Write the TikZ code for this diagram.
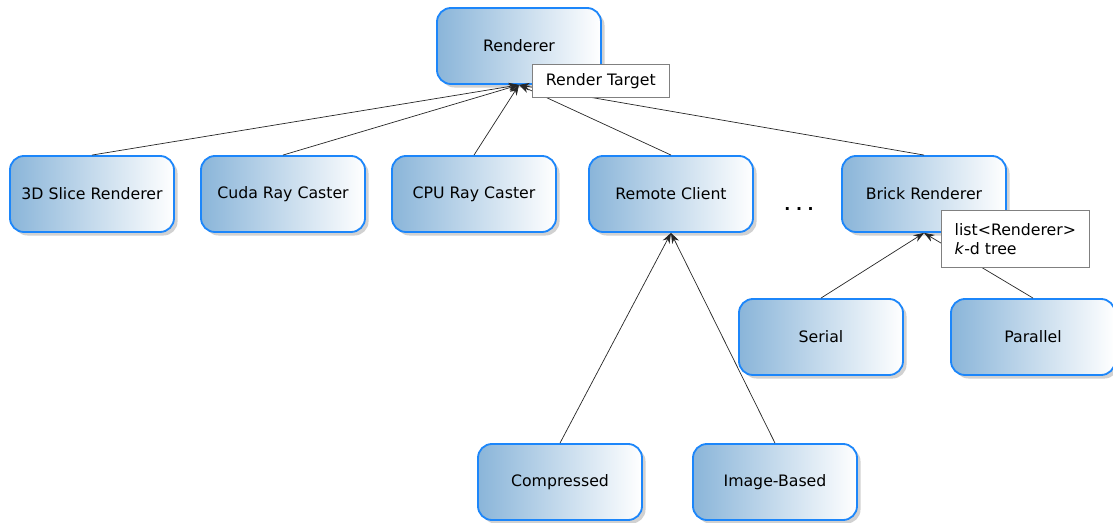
\documentclass[tikz,border=0pt]{standalone}
\usepackage{fontspec}
\setmainfont{DejaVu Sans}
\usepackage{tikz}
\usetikzlibrary{positioning,arrows.meta,shadows}

\definecolor{boxblue}{RGB}{138,181,217}
\definecolor{edgeblue}{RGB}{28,134,250}

\begin{document}
\begin{tikzpicture}[
        x=0.025cm, y=-0.025cm,
        font=\fontsize{11.2}{13.6}\selectfont,
        >={Stealth[length=2.6mm,width=1.9mm]},
        cls/.style={
            rectangle,
            rounded corners=0.35cm,
            draw=edgeblue,
            line width=1.3pt,
            left color=boxblue,
            right color=white,
            minimum height=1.9cm,
            minimum width=4.1cm,
            align=center,
            drop shadow={shadow xshift=2.5pt, shadow yshift=-2.5pt, opacity=0.3, fill=black!60}
        },
        note/.style={
            rectangle,
            draw=black!50,
            line width=0.5pt,
            fill=white,
            align=left,
            anchor=north west,
            inner xsep=2.2mm
        },
        inh/.style={->, black!85, line width=0.5pt},
    ]

        \useasboundingbox (0,0) rectangle (1113,523);

        % classes
        \node[cls] (rend) at (519,46) {Renderer};

        \node[cls] (slice) at (92,194) {3D Slice Renderer};
        \node[cls] (cuda) at (283,194) {Cuda Ray Caster};
        \node[cls] (cpu) at (474,194) {CPU Ray Caster};
        \node[cls] (remote) at (671,194) {Remote Client};
        \node[cls] (brick) at (924,194) {Brick Renderer};
        \node (dots) at (799,209) {\textbf{.\hspace{4pt}.\hspace{4pt}.}};

        \node[cls] (serial) at (821,337) {Serial};
        \node[cls] (parallel) at (1033,337) {Parallel};

        \node[cls] (compr) at (560,482) {Compressed};
        \node[cls] (image) at (775,482) {Image-Based};

        % inheritance
        \foreach \c in {slice,cuda,cpu,remote,brick}
            \draw[inh] (\c.north) -- (rend.south);
        \foreach \c in {compr,image}
            \draw[inh] (\c.north) -- (remote.south);
        \foreach \c in {serial,parallel}
            \draw[inh] (\c.north) -- (brick.south);

        % members
        \node[note, minimum width=3.425cm, minimum height=0.825cm] (rtarget) at (532,64) {Render Target};
        \node[note, minimum width=3.7cm, minimum height=1.425cm] (bricklist) at (941,210)
            {list<Renderer>\\\textit{k}-d tree};

    \end{tikzpicture}
\end{document}
